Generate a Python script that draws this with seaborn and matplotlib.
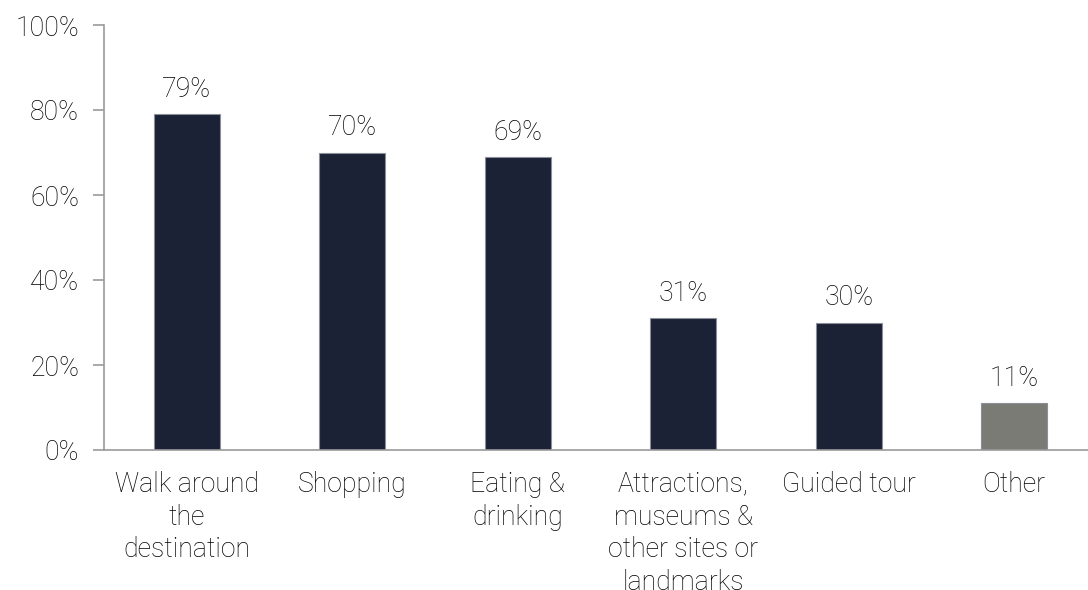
import matplotlib
matplotlib.use("Agg")
import matplotlib.pyplot as plt
import seaborn as sns
import pandas as pd

categories = [
    "Walk around\nthe\ndestination",
    "Shopping",
    "Eating &\ndrinking",
    "Attractions,\nmuseums &\nother sites or\nlandmarks",
    "Guided tour",
    "Other",
]
values = [79, 70, 69, 31, 30, 11]
bar_colors = ["#1b2235", "#1b2235", "#1b2235", "#1b2235", "#1b2235", "#7b7b75"]
y_ticks = [0, 20, 40, 60, 80, 100]

sns.set_theme(style="white")
plt.rcParams["font.family"] = ["Roboto", "DejaVu Sans"]

TEXT = "#000000"
FS = 19.2
WEIGHT = "light"

df = pd.DataFrame({"activity": categories, "share": values})

fig = plt.figure(figsize=(10.88, 5.90), dpi=100)
ax = fig.add_axes([104 / 1088, 140 / 590, 993 / 1088, 425 / 590])

sns.barplot(data=df, x="activity", y="share", hue="activity",
            palette=bar_colors, width=0.4, legend=False, ax=ax,
            edgecolor="#8a8f99", linewidth=0.8, saturation=1)

ax.set_ylim(0, 100)
ax.set_yticks(y_ticks)
ax.set_yticklabels([f"{t}%" for t in y_ticks], fontsize=FS, color=TEXT,
                   fontweight=WEIGHT)
ax.set_xticks(range(len(categories)))
ax.set_xticklabels(categories, fontsize=FS, color=TEXT,
                   fontweight=WEIGHT, linespacing=1.27)
ax.set_xlabel("")
ax.set_ylabel("")

for s in ["top", "right"]:
    ax.spines[s].set_visible(False)
for s in ["left", "bottom"]:
    ax.spines[s].set_color("#9a9a9a")
    ax.spines[s].set_linewidth(1.2)

ax.tick_params(axis="y", left=True, length=8, width=1.2, color="#9a9a9a", pad=10)
ax.tick_params(axis="x", bottom=False, pad=9)

for i, v in enumerate(values):
    ax.annotate(f"{v}%", (i, v), xytext=(0, 8), textcoords="offset points",
                ha="center", va="bottom", fontsize=FS, color=TEXT,
                fontweight=WEIGHT)

fig.savefig("out.png", dpi=100)
